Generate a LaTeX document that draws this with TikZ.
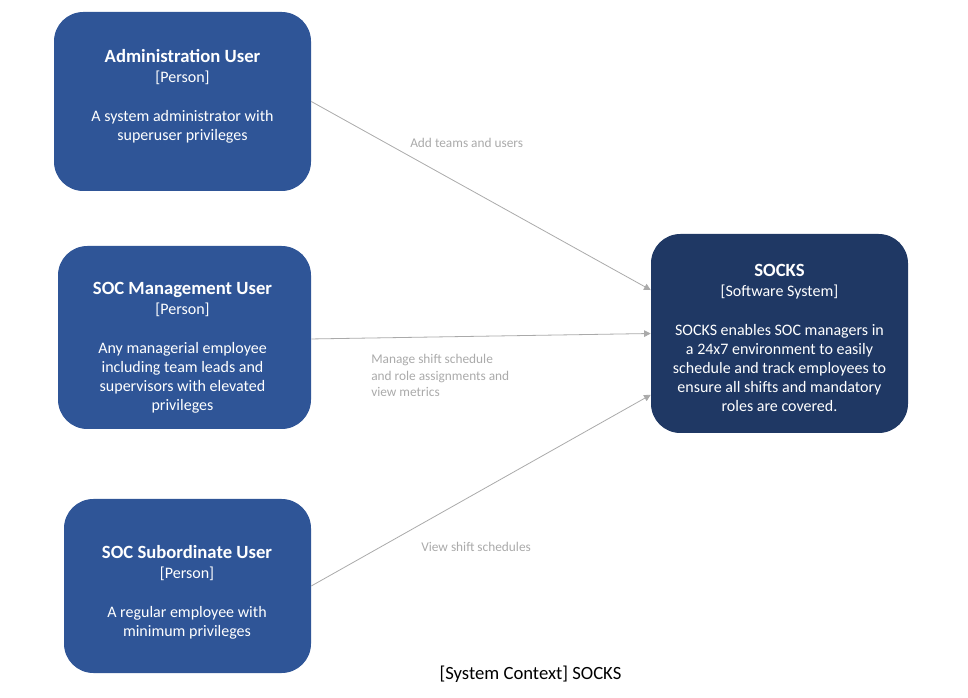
\documentclass[tikz,border=0pt]{standalone}
\usepackage{fontspec}
\setmainfont{Carlito}
\usetikzlibrary{arrows.meta}
\definecolor{personblue}{HTML}{2F5597}
\definecolor{systemblue}{HTML}{1F3864}
\definecolor{relgray}{HTML}{AAAAAA}
\tikzset{
  personbox/.style={draw=none, fill=personblue, rounded corners=22pt, inner sep=0pt},
  systembox/.style={draw=none, fill=systemblue, rounded corners=22pt, inner sep=0pt},
  boxtext/.style={anchor=north, inner sep=0pt, text=white, align=center, font=\fontsize{12pt}{14.25pt}\selectfont},
  rel/.style={draw=relgray, line width=0.6pt, -{Triangle[length=5pt,width=5pt]}},
  rellabel/.style={inner sep=0pt, text=relgray, align=left, font=\fontsize{10pt}{12.4pt}\selectfont},
}
\newcommand{\boxtitle}[1]{{\fontsize{14pt}{14.25pt}\selectfont\bfseries #1}}
\begin{document}
\begin{tikzpicture}[x=0.75pt, y=-0.75pt]
\useasboundingbox (0,0) rectangle (968,698);
% boxes
\node[personbox, minimum width=192.75pt, minimum height=134.25pt] (admin) at (182.5,101.5) {};
\node[personbox, minimum width=189.75pt, minimum height=137.25pt] (mgmt) at (184.5,337.5) {};
\node[personbox, minimum width=185.25pt, minimum height=130.5pt] (sub) at (187.5,586) {};
\node[systembox, minimum width=192.75pt, minimum height=149.25pt] (socks) at (779.5,333.5) {};
% texts
\node[boxtext] (admintext) at (182.5,49) {\boxtitle{Administration User}\\[1pt][Person]\\[15pt]A system administrator with\\superuser privileges};
\node[boxtext] (mgmttext) at (182.5,282) {\boxtitle{SOC Management User}\\[1pt][Person]\\[15pt]Any managerial employee\\including team leads and\\supervisors with elevated\\privileges};
\node[boxtext] (subtext) at (187,545) {\boxtitle{SOC Subordinate User}\\[1pt][Person]\\[15pt]A regular employee with\\minimum privileges};
\node[boxtext] (socktext) at (779.5,264) {\boxtitle{SOCKS}\\[1pt][Software System]\\[15pt]SOCKS enables SOC managers in\\a 24x7 environment to easily\\schedule and track employees to\\ensure all shifts and mandatory\\roles are covered.};
% relations
\draw[rel] (admin.east) -- ([yshift=32.6pt]socks.west);
\draw[rel] ([yshift=-1.1pt]mgmt.east) -- (socks.west);
\draw[rel] (sub.east) -- ([yshift=-46pt]socks.west);
\node[rellabel, anchor=west] (l1) at (410,143) {Add teams and users};
\node[rellabel, anchor=west] (l2) at (371,375.5) {Manage shift schedule\\and role assignments and\\view metrics};
\node[rellabel, anchor=west] (l3) at (421,547) {View shift schedules};
% caption
\node[inner sep=0pt, font=\fontsize{14pt}{16pt}\selectfont] (caption) at (530.5,674) {[System Context] SOCKS};
\end{tikzpicture}
\end{document}
